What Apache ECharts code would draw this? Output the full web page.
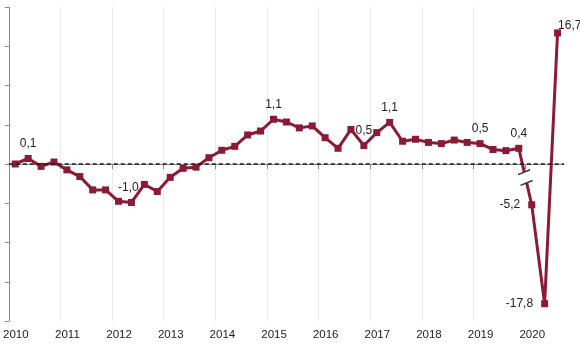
<!DOCTYPE html>
<html>
<head>
<meta charset="utf-8">
<script src="https://cdn.jsdelivr.net/npm/echarts@6/dist/echarts.min.js"></script>
<style>
html,body{margin:0;padding:0;background:#fff;}
#c{width:580px;height:361px;}
</style>
</head>
<body>
<div id="c"></div>
<script>
// Quarterly values (%), 2010 Q1 .. 2020 Q3
const years = [2010, 2011, 2012, 2013, 2014, 2015, 2016, 2017, 2018, 2019, 2020];
const quarters = [
  '2010 Q1','2010 Q2','2010 Q3','2010 Q4',
  '2011 Q1','2011 Q2','2011 Q3','2011 Q4',
  '2012 Q1','2012 Q2','2012 Q3','2012 Q4',
  '2013 Q1','2013 Q2','2013 Q3','2013 Q4',
  '2014 Q1','2014 Q2','2014 Q3','2014 Q4',
  '2015 Q1','2015 Q2','2015 Q3','2015 Q4',
  '2016 Q1','2016 Q2','2016 Q3','2016 Q4',
  '2017 Q1','2017 Q2','2017 Q3','2017 Q4',
  '2018 Q1','2018 Q2','2018 Q3','2018 Q4',
  '2019 Q1','2019 Q2','2019 Q3','2019 Q4',
  '2020 Q1','2020 Q2','2020 Q3'
];
const values = [
  0.00, 0.14, -0.06, 0.05,
  -0.15, -0.32, -0.66, -0.66,
  -0.95, -0.98, -0.52, -0.70,
  -0.34, -0.11, -0.08, 0.16,
  0.35, 0.45, 0.74, 0.84,
  1.14, 1.07, 0.92, 0.97,
  0.67, 0.40, 0.88, 0.47,
  0.80, 1.06, 0.58, 0.63,
  0.55, 0.52, 0.61, 0.55,
  0.52, 0.37, 0.34, 0.40,
  -5.2, -17.8, 16.7
];
// points after the axis break are drawn at a compressed scale
const breakStartIndex = 40;
const breakDivisor = 5;
// labelled points: index -> label position
const labelPoints = {1:'top', 9:'top', 20:'top', 27:'top', 29:'top', 36:'top', 39:'top', 40:'left', 41:'left', 42:'right'};

const lineColor = '#8b1a35';

function qToX(label){
  const p = label.split(' Q');
  return +p[0] + (+p[1] - 0.5) / 4;
}
const seriesData = quarters.map((q, i) => {
  const disp = i >= breakStartIndex ? values[i] / breakDivisor : values[i];
  const item = { value: [qToX(q), disp], actual: values[i] };
  const pos = labelPoints[i];
  if (pos) {
    const lbl = { show: true, position: pos, distance: 5 };
    if (pos === 'left') { lbl.distance = 8; }
    if (pos === 'right') { lbl.offset = [-8, -7]; }
    if (i === 9) { lbl.offset = [-3, 0]; }
    item.label = lbl;
  }
  return item;
});
const fmt = v => v.toFixed(1).replace('.', ',');

const chart = echarts.init(document.getElementById('c'), null, {renderer: 'canvas'});
const option = {
  animation: false,
  backgroundColor: '#fff',
  textStyle: { fontFamily: 'Liberation Sans, Arial, sans-serif' },
  grid: { left: 7, right: 16, top: 7, bottom: 40, containLabel: false },
  xAxis: {
    type: 'value',
    min: 2010, max: 2020.75, interval: 1,
    axisLine: { show: true, lineStyle: { color: '#8a8a8a', width: 1 } },
    axisTick: { show: true, length: 5, lineStyle: { color: '#8a8a8a' }, customValues: years },
    axisLabel: {
      customValues: years,
      color: '#222', fontSize: 11.5, margin: 8,
      padding: [0, 0, 0, 14],
      formatter: v => String(v)
    },
    splitLine: { show: true, showMinLine: false, showMaxLine: false, lineStyle: { color: '#ebebeb', width: 1 } }
  },
  yAxis: {
    type: 'value',
    min: -4, max: 4, interval: 1,
    axisLine: { show: true, lineStyle: { color: '#8a8a8a', width: 1 } },
    axisTick: { show: true, length: 4, lineStyle: { color: '#8a8a8a' } },
    axisLabel: { show: false },
    splitLine: { show: false }
  },
  series: [{
    type: 'line',
    data: seriesData,
    symbol: 'rect',
    symbolSize: 7,
    lineStyle: { color: lineColor, width: 3 },
    itemStyle: { color: lineColor },
    label: {
      show: false,
      color: '#222', fontSize: 12,
      formatter: p => fmt(p.data.actual)
    },
    markLine: {
      silent: true,
      symbol: 'none',
      label: { show: false },
      lineStyle: { color: '#1a1a1a', type: [4, 3], width: 1.6 },
      data: [{ yAxis: 0 }]
    },
    z: 3
  }]
};
chart.setOption(option);

// axis-break symbol on the segment between the last normal point and the first compressed one
const a = chart.convertToPixel({gridIndex: 0}, seriesData[breakStartIndex - 1].value);
const b = chart.convertToPixel({gridIndex: 0}, seriesData[breakStartIndex].value);
const mx = (a[0] + b[0]) / 2, my = (a[1] + b[1]) / 2 + 1;
const dx = b[0] - a[0], dy = b[1] - a[1];
const len = Math.sqrt(dx * dx + dy * dy);
const ux = dx / len, uy = dy / len;
const gap = 5.5;
const ang = -22 * Math.PI / 180;
const cx = Math.cos(ang) * 6.5, cy = Math.sin(ang) * 6.5;
const p1 = [mx - ux * gap, my - uy * gap];
const p2 = [mx + ux * gap, my + uy * gap];
chart.setOption({
  graphic: [
    { type: 'line', z: 100, shape: { x1: p1[0], y1: p1[1], x2: p2[0], y2: p2[1] }, style: { stroke: '#fff', lineWidth: 6 } },
    { type: 'line', z: 101, shape: { x1: p1[0] - cx, y1: p1[1] - cy, x2: p1[0] + cx, y2: p1[1] + cy }, style: { stroke: '#333', lineWidth: 1.5 } },
    { type: 'line', z: 101, shape: { x1: p2[0] - cx, y1: p2[1] - cy, x2: p2[0] + cx, y2: p2[1] + cy }, style: { stroke: '#333', lineWidth: 1.5 } }
  ]
});
</script>
</body>
</html>
